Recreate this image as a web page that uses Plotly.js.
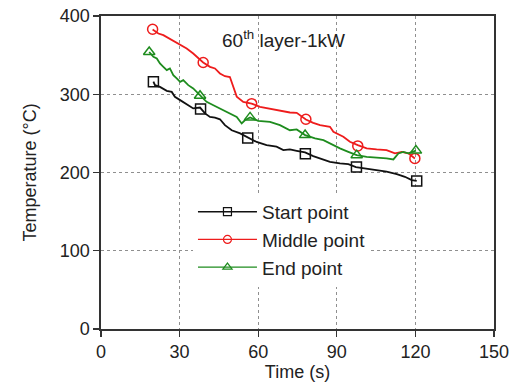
<!DOCTYPE html>
<html><head><meta charset="utf-8">
<script src="https://cdn.plot.ly/plotly-3.0.1.min.js"></script>
<style>html,body{margin:0;padding:0;background:#fff}</style>
</head><body><div id="chart" style="width:515px;height:382px"></div>
<script>
// Start point (black)
const startT = [20,20.6,22.5,25.1,27.0,28.2,30.2,31.4,33.3,35.2,37.8,39.7,41.6,43.5,45.4,47.3,49.9,53.1,56.2,59.4,63.2,67,69.6,72.1,74.7,77.9,81,84.9,87.4,91.2,94.4,97.3,101.4,105.2,109,112.9,116,118.6,120.5];
const startV = [316,311.6,309.4,304.3,303,296.7,292.5,290.3,286,281.9,283,275.5,271,270,268,260.5,254,250,244.8,239,235,233,228.6,229.5,227.7,225.6,221,216.7,213.7,211.6,210.7,207,205,203,201,198,194.5,190.3,189.4];
const startMT = [20,38,56,78,97.5,120.5];
const startMV = [316,281,244,224,207,189];
// Middle point (red)
const midT = [19.7,21.9,23.8,26.3,28.9,30.8,32.7,35.2,37.1,39,41.6,43.5,45.4,47.3,49.2,50.5,51.8,54.3,57.5,60.7,64.5,68.3,72.1,74.7,78.2,81,83.6,87.4,88.7,92.5,95,98,101.4,105.2,109,112.2,114.8,117.3,119.8];
const midV = [382.7,377.6,375.5,371,365.7,362.7,358.5,352,345.7,340.6,335,333,326.6,323,322,309.5,297,290.3,288,284,281.8,279.7,276.7,276.3,267.8,263.5,260.5,258.4,252,245.6,239.2,235,230.8,229.5,228.6,224.4,226.4,224.4,218];
const midMT = [19.7,39,57.5,78.2,98,119.8];
const midMV = [383,340.6,288,268,234,218];
// End point (green)
const endT = [18.4,20,21.3,22.5,23.8,25.1,26.3,27.6,28.9,30.2,31.4,33.3,35.2,37.8,40.3,42.9,45.4,48,50.5,51.8,53.7,55,56.9,60,64.5,68.3,72.1,74.7,77.9,81.7,84.9,87.4,91.2,94.4,97.6,101.4,105.2,109,111.6,113.5,115.4,117.3,120.2];
const endV = [354,347.8,345.7,339.3,335,330.8,333,324.4,320.2,315.8,318,311.6,307.4,298,290.3,286,281.9,277.5,273.3,271.1,262.7,267,270.4,266,264.8,260.5,254,255,247.8,243.5,241.4,237,230.8,226.4,222.2,220,219.3,218,216.7,224.4,226.4,224.4,228];
const endMT = [18.4,37.8,56.9,77.9,97.6,120.2];
const endMV = [354,298,270.4,247.8,222.2,228];

const names = ['Start point','Middle point','End point'];
const colors = ['#111111','#ee1c1c','#1e8c1e'];
const symbols = ['square-open','circle-open','triangle-up-open'];
const series = [[startT,startV,startMT,startMV],[midT,midV,midMT,midMV],[endT,endV,endMT,endMV]];

const FONT = 'Liberation Sans, Arial, sans-serif';
const traces = [];
series.forEach((s,i)=>{
  traces.push({x:s[0],y:s[1],mode:'lines',line:{color:colors[i],width:1.8},showlegend:false,legendgroup:'g'+i,hoverinfo:'skip'});
  traces.push({x:s[2],y:s[3],mode:'markers',marker:{symbol:symbols[i],size:10,color:colors[i],line:{width:1.5,color:colors[i]}},showlegend:false,legendgroup:'g'+i});
  traces.push({x:[null],y:[null],name:names[i],mode:'lines+markers',line:{color:colors[i],width:1.4},marker:{symbol:symbols[i],size:8,color:colors[i],line:{width:1.2,color:colors[i]}},legendgroup:'g'+i,showlegend:true});
});

const axisCommon = {showline:true,mirror:true,linecolor:'#333',linewidth:1.6,ticks:'outside',ticklen:6,tickwidth:1.4,tickcolor:'#333',
  showgrid:true,gridcolor:'#8f8f8f',griddash:'dot',gridwidth:1,zeroline:false,tickfont:{family:FONT,size:18,color:'#222'}};

const layout = {
  width:515,height:382,
  margin:{l:101,r:21,t:16,b:53},
  paper_bgcolor:'#fff',plot_bgcolor:'#fff',
  xaxis:Object.assign({},axisCommon,{range:[0,150],dtick:30,tick0:0,ticklabelstandoff:0,
    title:{text:'Time (s)',font:{family:FONT,size:18,color:'#222'},standoff:0}}),
  yaxis:Object.assign({},axisCommon,{range:[0,400],dtick:100,tick0:0,ticklabelstandoff:0,
    title:{text:'Temperature (°C)',font:{family:FONT,size:18,color:'#222'},standoff:18}}),
  showlegend:true,
  legend:{x:0.234,y:0.435,xanchor:'left',yanchor:'top',bgcolor:'rgba(255,255,255,1)',borderwidth:0,
    font:{family:FONT,size:19,color:'#222'},itemwidth:59,tracegroupgap:0,traceorder:'grouped'},
  annotations:[{xref:'paper',yref:'paper',x:0.302,y:0.925,xanchor:'left',yanchor:'middle',showarrow:false,
    text:'60<sup>th</sup> layer-1kW',font:{family:FONT,size:19,color:'#222'}}]
};
Plotly.newPlot('chart',traces,layout,{displayModeBar:false,staticPlot:true});
</script></body></html>
